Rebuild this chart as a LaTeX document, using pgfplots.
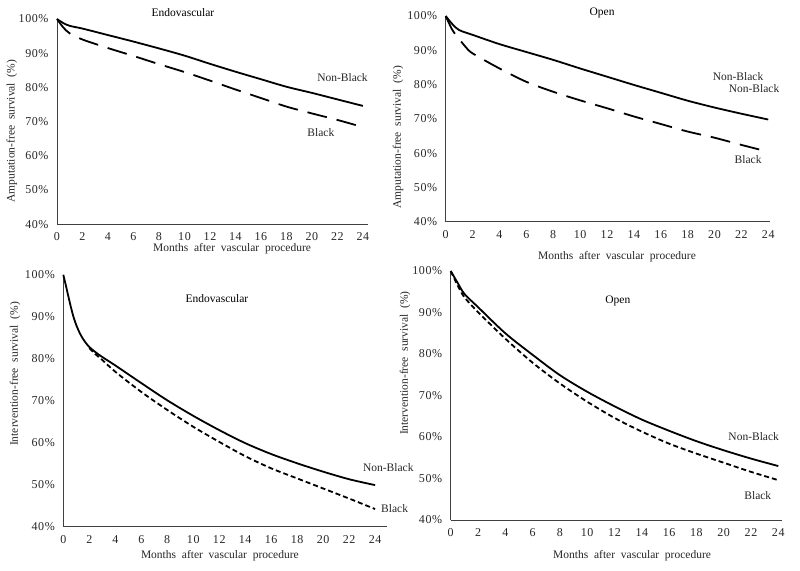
\documentclass[border=0pt]{standalone}
\usepackage{fontspec}
\setmainfont{Liberation Serif}
\newfontfamily\tickfont[LetterSpace=5]{Liberation Serif}
\usepackage{pgfplots}
\pgfplotsset{compat=1.18}

\pgfplotsset{
  every axis title shift=0pt,
  survplot/.style={
    scale only axis, xmin=0, ymin=40, ymax=100,
    axis x line*=bottom, axis y line*=left,
    axis line style={black!75, line width=0.8pt},
    xtick={0,2,...,24}, ytick={40,50,...,100},
    major tick length=0pt,
    /pgf/number format/assume math mode=true,
    yticklabel={\pgfmathprintnumber{\tick}\%},
    ticklabel style={font=\tickfont\fontsize{12}{14}\selectfont, text=black!85},
    yticklabel style={xshift=-5pt},
    xticklabel style={yshift=-5pt},
    label style={font=\fontsize{11.5}{13}\selectfont, text=black!85},
    title style={font=\fontsize{11.5}{13}\selectfont, anchor=center},
    clip=false,
  },
}
\tikzset{
  nonblack/.style={black, line width=1.8pt, smooth},
  blacklong/.style={black, line width=1.8pt, smooth, dash pattern=on 20pt off 10pt},
  blackshort/.style={black, line width=1.8pt, smooth, dash pattern=on 5pt off 3pt},
  lbl/.style={font=\fontsize{11.5}{13}\selectfont, text=black!85},
}
\newcommand{\xlab}{Months\ \ after\ \ vascular\ \ procedure}

\begin{document}
\begin{tikzpicture}
\useasboundingbox (0pt,0pt) rectangle (800pt,570pt);

% top left: amputation-free, endovascular
\begin{axis}[survplot, at={(57pt,345.7pt)}, anchor=south west,
  width=311pt, height=205.3pt, xmax=24.4,
  xlabel={\xlab}, xlabel style={at={(axis description cs:0.563,-0.12)}, anchor=center},
  ylabel={Amputation-free\ \ survival\ \ (\%)},
  ylabel style={at={(axis description cs:-0.145,0.454)}, anchor=center},
  title={Endovascular}, title style={at={(axis description cs:0.405,1.029)}}]
\addplot[nonblack] coordinates {(0,100)(0.5,98.8)(1,98)(2,97.2)(4,95.3)(6,93.4)(8,91.4)(10,89.3)(12,86.9)(14,84.6)(16,82.4)(18,80.2)(20,78.4)(22,76.5)(24,74.6)};
\addplot[blacklong] coordinates {(0,100)(0.5,97.5)(1,95.8)(2,94)(4,91.5)(6,89.2)(8,86.8)(10,84.5)(12,82)(14,79.4)(16,76.9)(18,74.4)(20,72.4)(22,70.5)(24,68.4)};
\node[lbl] at (axis cs:22.4,82.8) {Non-Black};
\node[lbl] at (axis cs:20.7,66.7) {Black};
\end{axis}

% top right: amputation-free, open
\begin{axis}[survplot, at={(445.7pt,348.3pt)}, anchor=south west,
  width=323.9pt, height=205.7pt, xmax=24.1,
  xlabel={\xlab}, xlabel style={at={(axis description cs:0.529,-0.17)}, anchor=center},
  ylabel={Amputation-free\ \ survival\ \ (\%)},
  ylabel style={at={(axis description cs:-0.147,0.41)}, anchor=center},
  title={Open}, title style={at={(axis description cs:0.483,1.015)}}]
\addplot[nonblack] coordinates {(0,100)(0.5,97.6)(1,95.9)(2,94.5)(4,91.8)(6,89.5)(8,87.2)(10,84.7)(12,82.3)(14,79.9)(16,77.6)(18,75.3)(20,73.3)(22,71.5)(24,69.8)};
\addplot[blacklong] coordinates {(0,100)(0.5,95.9)(1,93.3)(1.5,90.9)(2,89.1)(4,84.7)(6,80.8)(8,77.9)(10,75.4)(12,73.1)(14,70.7)(16,68.5)(18,66.3)(20,64.5)(22,62.4)(24,60.4)};
\node[lbl] at (axis cs:21.75,82.2) {Non-Black};
\node[lbl] at (axis cs:22.94,78.7) {Non-Black};
\node[lbl] at (axis cs:22.5,58) {Black};
\end{axis}

% bottom left: intervention-free, endovascular
\begin{axis}[survplot, at={(63.3pt,43.3pt)}, anchor=south west,
  width=323.5pt, height=252pt, xmax=24.9,
  xlabel={\xlab}, xlabel style={at={(axis description cs:0.484,-0.116)}, anchor=center},
  ylabel={Intervention-free\ \ survival\ \ (\%)},
  ylabel style={at={(axis description cs:-0.149,0.606)}, anchor=center},
  title={Endovascular}, title style={at={(axis description cs:0.475,0.904)}}]
\addplot[nonblack] coordinates {(0,100)(0.2,97.4)(0.4,94.7)(0.6,92.1)(0.8,89.8)(1,88)(1.25,86.2)(1.5,84.8)(1.75,83.7)(2,82.8)(2.5,81.5)(3,80.4)(4,78.4)(6,74.2)(8,70.1)(10,66.4)(12,63)(14,59.9)(16,57.3)(18,55.1)(20,53.1)(22,51.3)(24,49.9)};
\addplot[blackshort] coordinates {(2,82.5)(2.5,81)(3,79.7)(4,76.9)(6,72.1)(8,67.8)(10,63.8)(12,60.2)(14,56.8)(16,53.9)(18,51.5)(20,49.1)(22,46.7)(24,44.2)};
\node[lbl, anchor=west] at (axis cs:22.8,54) {Non-Black};
\node[lbl, anchor=west] at (axis cs:24.2,44.2) {Black};
\end{axis}

% bottom right: intervention-free, open
\begin{axis}[survplot, at={(450.7pt,50pt)}, anchor=south west,
  width=331pt, height=249pt, xmax=24.25,
  xlabel={\xlab}, xlabel style={at={(axis description cs:0.548,-0.145)}, anchor=center},
  ylabel={Intervention-free\ \ survival\ \ (\%)},
  ylabel style={at={(axis description cs:-0.138,0.63)}, anchor=center},
  title={Open}, title style={at={(axis description cs:0.505,0.88)}}]
\addplot[nonblack] coordinates {(0,100)(0.5,97.2)(1,94.5)(2,91.3)(4,85)(6,79.8)(8,74.9)(10,70.9)(12,67.4)(14,64.2)(16,61.5)(18,59)(20,56.8)(22,54.8)(24,53)};
\addplot[blackshort] coordinates {(0,100)(0.5,96.6)(1,93.7)(2,90.1)(4,83.7)(6,77.9)(8,72.9)(10,68.5)(12,64.6)(14,61.3)(16,58.4)(18,56)(20,53.8)(22,51.6)(24,49.6)};
\node[lbl] at (axis cs:22.2,60) {Non-Black};
\node[lbl] at (axis cs:22.5,46) {Black};
\end{axis}
\end{tikzpicture}
\end{document}
